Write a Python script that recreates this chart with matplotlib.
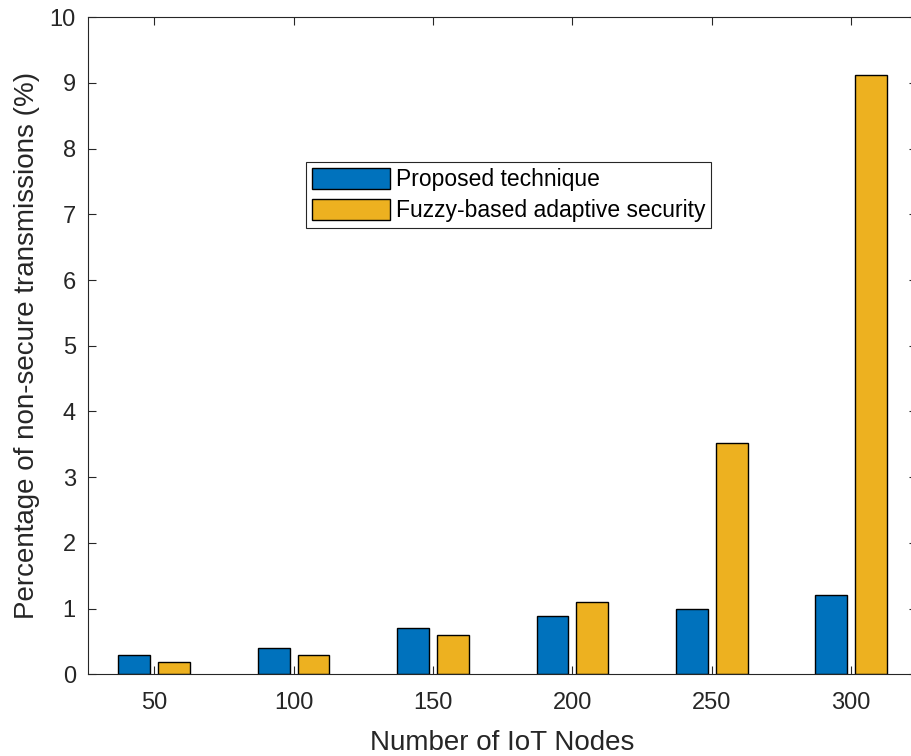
import matplotlib.pyplot as plt
import numpy as np

plt.rcParams['font.family'] = ['Liberation Sans', 'DejaVu Sans']

nodes = [50, 100, 150, 200, 250, 300]
proposed = [0.30, 0.40, 0.70, 0.88, 1.00, 1.21]
fuzzy = [0.18, 0.30, 0.60, 1.10, 3.52, 9.12]
series_names = ["Proposed technique", "Fuzzy-based adaptive security"]

blue = "#0072BD"
gold = "#EDB120"
txt = "#262626"

fig = plt.figure(figsize=(9.11, 7.56), dpi=100)
ax = fig.add_axes([88.3 / 911, 1 - 674.3 / 756, (917 - 88.3) / 911, (674.3 - 17.3) / 756])

x = np.array(nodes, dtype=float)
w = 11.4
off = 7.14
ax.bar(x - off, proposed, width=w, color=blue, edgecolor="black", linewidth=1.0, label=series_names[0])
ax.bar(x + off, fuzzy, width=w, color=gold, edgecolor="black", linewidth=1.0, label=series_names[1])

ax.set_xlim(26.4, 323.6)
ax.set_ylim(0, 10)
ax.set_xticks(nodes)
ax.set_yticks(range(0, 11))
ax.tick_params(direction="in", top=True, right=True, length=6, width=0.8,
               colors=txt, labelsize=17, labelcolor=txt)
ax.tick_params(axis="x", pad=13)
ax.tick_params(axis="y", pad=9)
for s in ax.spines.values():
    s.set_color(txt)
    s.set_linewidth(0.8)

ax.set_xlabel("Number of IoT Nodes", fontsize=20, color=txt, va="baseline")
ax.set_ylabel("Percentage of non-secure transmissions (%)", fontsize=20, color=txt, va="center")
ax.xaxis.set_label_coords(0.5, -0.1152)
ax.yaxis.set_label_coords(-0.074, 0.5)

leg = ax.legend(loc="upper left", bbox_to_anchor=(0.263, 0.78), fontsize=16.5,
                frameon=True, fancybox=False, edgecolor=txt, framealpha=1,
                handlelength=3.4, handleheight=1.05, borderpad=0.25,
                labelspacing=0.35, handletextpad=0.25, borderaxespad=0)
leg.get_frame().set_linewidth(0.8)

fig.savefig("out.png", dpi=100)
